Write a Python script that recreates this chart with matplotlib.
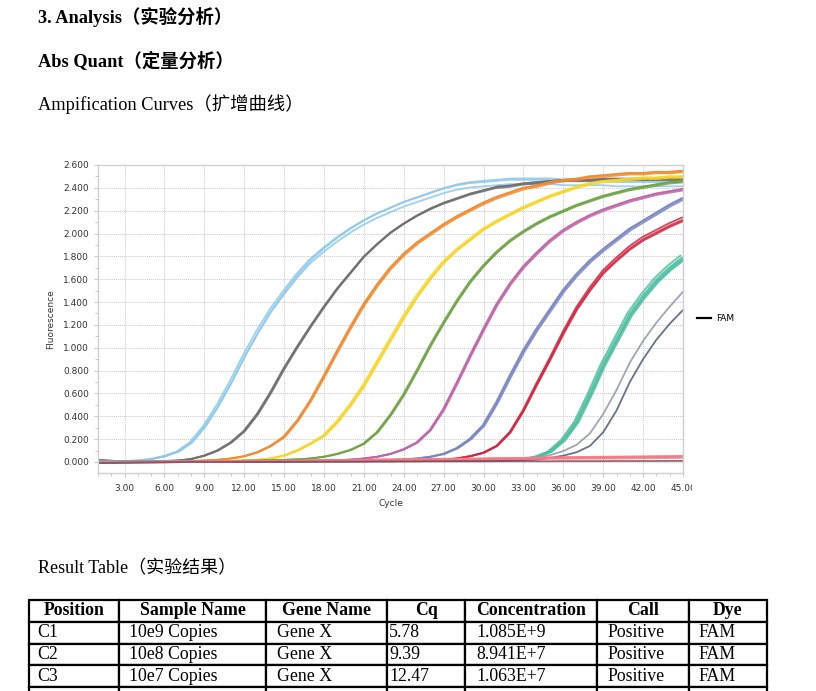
import numpy as np
import matplotlib
matplotlib.use("Agg")
import matplotlib.pyplot as plt
from matplotlib.transforms import Bbox, TransformedBbox
from matplotlib.ticker import MultipleLocator

# ---------------- data ----------------
cycles = list(range(1, 46))

light_blue = [0.012, 0.008, 0.006, 0.012, 0.025, 0.05, 0.09, 0.17, 0.31, 0.49,
              0.70, 0.93, 1.14, 1.33, 1.49, 1.64, 1.77, 1.87, 1.96, 2.04,
              2.11, 2.17, 2.22, 2.27, 2.31, 2.35, 2.39, 2.42, 2.44, 2.45,
              2.46, 2.47, 2.47, 2.47, 2.47, 2.46, 2.46, 2.46, 2.46, 2.45,
              2.45, 2.45, 2.45, 2.45, 2.45]
gray = [0.015, 0.01, 0.005, 0.005, 0.005, 0.008, 0.012, 0.025, 0.055, 0.10,
        0.17, 0.27, 0.42, 0.61, 0.82, 1.01, 1.19, 1.36, 1.52, 1.66,
        1.80, 1.91, 2.01, 2.09, 2.16, 2.22, 2.27, 2.31, 2.35, 2.38,
        2.41, 2.42, 2.44, 2.45, 2.46, 2.47, 2.47, 2.47, 2.48, 2.48,
        2.48, 2.48, 2.48, 2.48, 2.48]
orange = [0.0, 0.0, 0.0, 0.0, 0.002, 0.004, 0.006, 0.008, 0.012, 0.018,
          0.03, 0.05, 0.085, 0.14, 0.22, 0.36, 0.54, 0.75, 0.97, 1.18,
          1.38, 1.55, 1.70, 1.82, 1.92, 2.00, 2.08, 2.15, 2.21, 2.27,
          2.32, 2.36, 2.40, 2.42, 2.45, 2.47, 2.48, 2.50, 2.51, 2.52,
          2.53, 2.53, 2.54, 2.54, 2.55]
yellow = [0.0, 0.0, 0.0, 0.0, 0.0, 0.0, 0.002, 0.004, 0.006, 0.008,
          0.01, 0.013, 0.018, 0.03, 0.055, 0.10, 0.16, 0.23, 0.35, 0.50,
          0.67, 0.87, 1.07, 1.27, 1.45, 1.61, 1.75, 1.86, 1.95, 2.04,
          2.11, 2.17, 2.23, 2.28, 2.33, 2.37, 2.41, 2.44, 2.46, 2.47,
          2.48, 2.49, 2.49, 2.50, 2.50]
green = [0.01, 0.008, 0.006, 0.005, 0.005, 0.005, 0.005, 0.005, 0.006, 0.007,
         0.008, 0.01, 0.012, 0.015, 0.018, 0.022, 0.03, 0.045, 0.07, 0.105,
         0.16, 0.26, 0.41, 0.59, 0.80, 1.02, 1.22, 1.41, 1.58, 1.72,
         1.84, 1.94, 2.02, 2.09, 2.15, 2.20, 2.25, 2.29, 2.33, 2.36,
         2.39, 2.41, 2.43, 2.45, 2.46]
magenta = [-0.01, -0.008, -0.006, -0.005, -0.004, -0.003, -0.002, 0.0, 0.0, 0.0,
           0.002, 0.003, 0.004, 0.005, 0.006, 0.008, 0.01, 0.012, 0.015, 0.02,
           0.03, 0.045, 0.07, 0.11, 0.17, 0.28, 0.46, 0.69, 0.93, 1.16,
           1.38, 1.56, 1.71, 1.83, 1.94, 2.03, 2.10, 2.16, 2.21, 2.25,
           2.29, 2.32, 2.35, 2.37, 2.39]
slate_blue = [-0.005, -0.004, -0.003, -0.002, -0.001, 0.0, 0.0, 0.0, 0.0, 0.001,
              0.002, 0.003, 0.004, 0.005, 0.006, 0.007, 0.008, 0.009, 0.01, 0.011,
              0.012, 0.014, 0.017, 0.02, 0.03, 0.045, 0.07, 0.12, 0.20, 0.32,
              0.52, 0.75, 0.97, 1.16, 1.33, 1.50, 1.64, 1.76, 1.86, 1.95,
              2.04, 2.11, 2.18, 2.25, 2.31]
red = [0.0, 0.0, 0.0, 0.0, 0.0, 0.0, 0.0, 0.0, 0.0, 0.001,
       0.002, 0.003, 0.004, 0.005, 0.006, 0.007, 0.008, 0.009, 0.01, 0.011,
       0.012, 0.013, 0.014, 0.015, 0.016, 0.018, 0.02, 0.03, 0.05, 0.08,
       0.14, 0.26, 0.45, 0.68, 0.90, 1.13, 1.34, 1.51, 1.66, 1.77,
       1.87, 1.95, 2.01, 2.07, 2.12]
teal = [0.005, 0.005, 0.005, 0.005, 0.005, 0.005, 0.005, 0.005, 0.005, 0.005,
        0.005, 0.005, 0.005, 0.005, 0.005, 0.005, 0.006, 0.006, 0.006, 0.006,
        0.007, 0.007, 0.007, 0.008, 0.008, 0.008, 0.009, 0.009, 0.009, 0.01,
        0.012, 0.016, 0.025, 0.045, 0.09, 0.19, 0.35, 0.59, 0.85, 1.07,
        1.29, 1.45, 1.59, 1.70, 1.79]
light_slate = [0.003, 0.003, 0.003, 0.003, 0.003, 0.003, 0.003, 0.003, 0.003, 0.003,
               0.003, 0.003, 0.003, 0.003, 0.003, 0.004, 0.004, 0.004, 0.004, 0.004,
               0.005, 0.005, 0.005, 0.006, 0.006, 0.007, 0.008, 0.009, 0.01, 0.011,
               0.013, 0.016, 0.02, 0.035, 0.06, 0.095, 0.15, 0.25, 0.42, 0.63,
               0.87, 1.06, 1.22, 1.36, 1.49]
navy = [0.0, 0.0, 0.0, 0.0, 0.0, 0.0, 0.0, 0.0, 0.0, 0.0,
        0.0, 0.001, 0.001, 0.002, 0.002, 0.003, 0.003, 0.004, 0.004, 0.005,
        0.005, 0.006, 0.006, 0.007, 0.007, 0.008, 0.008, 0.009, 0.01, 0.011,
        0.012, 0.013, 0.015, 0.02, 0.035, 0.055, 0.085, 0.14, 0.26, 0.45,
        0.70, 0.90, 1.07, 1.21, 1.33]
ntc_pink = [0.0, 0.0, 0.0, 0.001, 0.001, 0.002, 0.002, 0.003, 0.003, 0.004,
            0.005, 0.006, 0.007, 0.008, 0.009, 0.010, 0.011, 0.012, 0.013, 0.015,
            0.017, 0.018, 0.019, 0.020, 0.021, 0.022, 0.023, 0.024, 0.025, 0.026,
            0.028, 0.029, 0.030, 0.032, 0.034, 0.035, 0.036, 0.037, 0.038, 0.039,
            0.040, 0.041, 0.042, 0.043, 0.044]
ntc_dark = [-0.01, -0.008, -0.006, -0.004, -0.003, -0.002, -0.001, 0.0, 0.0, 0.0,
            0.0, 0.001, 0.001, 0.001, 0.002, 0.002, 0.002, 0.003, 0.003, 0.003,
            0.003, 0.004, 0.004, 0.004, 0.004, 0.005, 0.005, 0.005, 0.005, 0.005,
            0.006, 0.006, 0.006, 0.006, 0.006, 0.007, 0.007, 0.007, 0.007, 0.008,
            0.008, 0.008, 0.008, 0.009, 0.009]

# groups: (values, colour, replicate cycle shifts, replicate scale factors)
groups = [
    (light_blue, "#8cc8ec", [-0.12, 0.0, 0.1], [1.0, 0.985, 1.005]),
    (gray, "#707070", [-0.07, 0.0, 0.06], [0.995, 1.0, 1.0]),
    (orange, "#f28a30", [-0.06, 0.0, 0.06], [1.0, 1.0, 0.995]),
    (yellow, "#f8d526", [-0.1, 0.0, 0.08], [1.0, 0.995, 1.0]),
    (green, "#72a545", [-0.06, 0.0, 0.06], [1.0, 0.995, 1.0]),
    (magenta, "#c064aa", [-0.06, 0.0, 0.05], [1.0, 1.0, 0.995]),
    (slate_blue, "#7a84c4", [-0.08, 0.0, 0.08], [1.0, 1.0, 0.995]),
    (red, "#d4243f", [-0.04, 0.0, 0.04], [1.01, 1.0, 0.995]),
    (teal, "#4dbf9f", [-0.18, -0.08, 0.0, 0.07, 0.14], [1.01, 1.0, 0.99, 1.0, 0.99]),
    (light_slate, "#8c96b0", [0.0], [1.0]),
    (navy, "#4b5a7c", [0.0], [1.0]),
    (ntc_pink, "#f47c86", [-0.3, 0.0, 0.3, 0.5], [1.0, 1.2, 0.8, 1.1]),
    (ntc_dark, "#8a4a5a", [0.0], [1.0]),
]

x_ticks = [3, 6, 9, 12, 15, 18, 21, 24, 27, 30, 33, 36, 39, 42, 45]
y_ticks = [0.0, 0.2, 0.4, 0.6, 0.8, 1.0, 1.2, 1.4, 1.6, 1.8, 2.0, 2.2, 2.4, 2.6]

title_1 = "3. Analysis（实验分析）"
title_2 = "Abs Quant（定量分析）"
title_3 = "Ampification Curves（扩增曲线）"
title_4 = "Result Table（实验结果）"

table_header = ["Position", "Sample Name", "Gene Name", "Cq", "Concentration", "Call", "Dye"]
positions = ["C1", "C2", "C3", ""]
sample_names = ["10e9 Copies", "10e8 Copies", "10e7 Copies", ""]
gene_names = ["Gene X", "Gene X", "Gene X", ""]
cq_values = ["5.78", "9.39", "12.47", ""]
concentrations = ["1.085E+9", "8.941E+7", "1.063E+7", ""]
calls = ["Positive", "Positive", "Positive", ""]
dyes = ["FAM", "FAM", "FAM", ""]

# ---------------- figure ----------------
W, H = 816, 691
fig = plt.figure(figsize=(W / 100, H / 100), dpi=100)
fig.patch.set_facecolor("white")

serif = ["Liberation Serif", "Noto Sans CJK SC"]


def fx(px):
    return px / W


def fy(py):
    return 1 - py / H


fig.text(fx(38), fy(17), title_1, family=serif, weight="bold", fontsize=13.2, va="center", ha="left")
fig.text(fx(38), fy(61), title_2, family=serif, weight="bold", fontsize=13.2, va="center", ha="left")
fig.text(fx(38), fy(104), title_3, family=serif, fontsize=13.2, va="center", ha="left")
fig.text(fx(38), fy(569), title_4, family=serif, fontsize=13.0, va="center", ha="left")

# chart axes
ax_l, ax_r, ax_t, ax_b = 98, 683, 165, 473
ax = fig.add_axes([fx(ax_l), fy(ax_b), fx(ax_r - ax_l), (ax_b - ax_t) / H])
cyc = np.array(cycles, dtype=float)
for vals, col, dxs, scs in groups:
    v = np.array(vals)
    for dx, sc in zip(dxs, scs):
        ax.plot(cyc + dx, v * sc, color=col, lw=1.3, alpha=0.85, solid_capstyle="round")

ax.set_xlim(1, 45)
ax.set_ylim(-0.097, 2.6)
ax.set_xticks(x_ticks)
ax.set_xticklabels([f"{t:.2f}" for t in x_ticks])
ax.set_yticks(y_ticks)
ax.set_yticklabels([f"{t:.3f}" for t in y_ticks])
ax.xaxis.set_minor_locator(MultipleLocator(1))
ax.yaxis.set_minor_locator(MultipleLocator(0.1))
ax.grid(True, which="major", color="#c8c8c8", linestyle=(0, (1, 1)), linewidth=0.7)
ax.set_axisbelow(True)
for s in ax.spines.values():
    s.set_color("#d0d0d0")
    s.set_linewidth(1.0)
ax.tick_params(axis="both", which="both", colors="#c0c0c0", labelcolor="#333333",
               labelsize=6.5, length=3, width=0.6)
ax.tick_params(axis="both", which="minor", length=2)
ax.tick_params(axis="x", pad=5)
for lab in ax.get_xticklabels() + ax.get_yticklabels():
    lab.set_family("DejaVu Sans")
ax.set_xlabel("Cycle", fontsize=6.5, color="#333333", labelpad=4, family="DejaVu Sans")
ax.set_ylabel("Fluorescence", fontsize=6.5, color="#333333", labelpad=6, family="DejaVu Sans")

# clip x tick labels at the chart image edge
clipbox = TransformedBbox(Bbox.from_extents(0, 0, fx(692), 1), fig.transFigure)
for lab in ax.get_xticklabels():
    lab.set_clip_box(clipbox)
    lab.set_clip_on(True)

# legend
ax.legend(handles=[plt.Line2D([], [], color="black", lw=1.6)], labels=["FAM"],
          loc="center left", bbox_to_anchor=(fx(697), fy(319)), bbox_transform=fig.transFigure,
          frameon=False, fontsize=6.5, handlelength=1.6, handletextpad=0.5, borderaxespad=0,
          borderpad=0)

# result table (pixel coordinates, y measured upward)
col_edges = [29, 119, 266, 387, 465, 597, 689, 767]
col_pad_px = [8, 10, 11, 2, 11, 10, 9]
row_top, row_bottom = 600, 709
tab_ax = fig.add_axes([0, 0, 1, 1])
tab_ax.set_xlim(0, W)
tab_ax.set_ylim(0, H)
tab_ax.axis("off")
tab_ax.patch.set_alpha(0)
total_w = col_edges[-1] - col_edges[0]
col_px = [col_edges[i + 1] - col_edges[i] for i in range(len(col_edges) - 1)]
col_w = [w / total_w for w in col_px]
body = [list(r) for r in zip(positions, sample_names, gene_names, cq_values, concentrations, calls, dyes)]
tbl = tab_ax.table(cellText=body, colLabels=table_header, cellLoc="left",
                   colWidths=col_w,
                   bbox=[col_edges[0], H - row_bottom, total_w, row_bottom - row_top],
                   transform=tab_ax.transData)
tbl.auto_set_font_size(False)
for (r, c), cell in tbl.get_celld().items():
    cell.set_edgecolor("black")
    cell.set_linewidth(1.6)
    cell.set_facecolor("white")
    t = cell.get_text()
    t.set_fontsize(12.8)
    t.set_family("Liberation Serif")
    if r == 0:
        t.set_weight("bold")
        cell.set_text_props(ha="center")
        cell._loc = "center"
    else:
        cell.PAD = col_pad_px[c] / col_px[c]
fig.savefig("out.png", dpi=100, facecolor="white")
